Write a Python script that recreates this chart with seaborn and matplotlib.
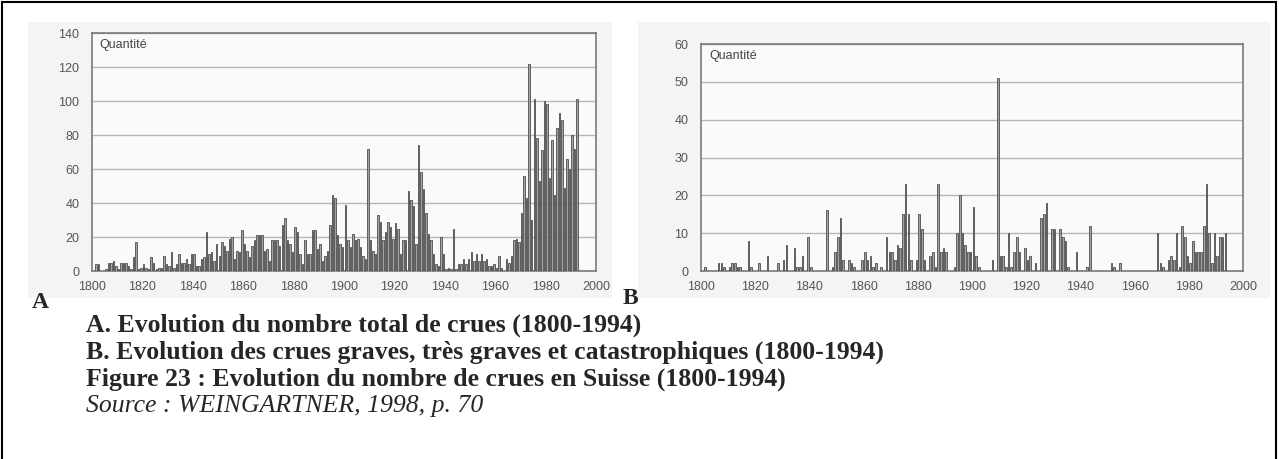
import numpy as np
import pandas as pd
import matplotlib
matplotlib.use('Agg')
import matplotlib.pyplot as plt
import seaborn as sns
from matplotlib.patches import Rectangle
from matplotlib.ticker import MultipleLocator

# annual values 1800-1993
years = np.arange(1800, 1994)

total_1800_1899 = [
    0, 4, 4, 0, 0, 1, 5, 5, 6, 3,
    1, 5, 5, 5, 3, 1, 8, 17, 1, 2,
    4, 2, 1, 8, 5, 1, 2, 2, 9, 4,
    3, 11, 2, 4, 10, 5, 5, 7, 4, 10,
    10, 3, 3, 7, 8, 23, 10, 11, 6, 16,
    9, 17, 15, 12, 19, 20, 7, 12, 11, 24,
    16, 12, 8, 15, 18, 21, 21, 21, 12, 13,
    6, 18, 18, 18, 15, 27, 31, 18, 16, 11,
    26, 23, 10, 4, 18, 10, 10, 24, 24, 13,
    16, 6, 9, 12, 27, 45, 43, 21, 16, 14,
]
total_1900_1993 = [
    39, 18, 14, 22, 18, 19, 14, 9, 7, 72,
    18, 12, 10, 33, 29, 18, 23, 29, 26, 19,
    28, 25, 10, 18, 18, 47, 42, 38, 16, 74,
    58, 48, 34, 22, 18, 10, 4, 3, 20, 10,
    1, 2, 1, 25, 1, 4, 4, 7, 4, 7,
    11, 6, 10, 6, 10, 6, 7, 3, 3, 4,
    2, 9, 2, 0, 7, 5, 9, 18, 19, 17,
    34, 56, 43, 122, 30, 101, 78, 53, 71, 100,
    98, 55, 77, 45, 84, 93, 89, 49, 66, 60,
    80, 72, 101, 0,
]

graves_1800_1899 = [
    0, 1, 0, 0, 0, 0, 2, 2, 1, 0,
    1, 2, 2, 1, 1, 0, 0, 8, 1, 0,
    0, 2, 0, 0, 4, 0, 0, 0, 2, 0,
    3, 7, 0, 0, 6, 1, 1, 4, 0, 9,
    1, 0, 0, 0, 0, 0, 16, 0, 1, 5,
    9, 14, 3, 0, 3, 2, 1, 0, 0, 3,
    5, 3, 4, 1, 2, 0, 1, 0, 9, 5,
    5, 3, 7, 6, 15, 23, 15, 3, 0, 3,
    15, 11, 3, 0, 4, 5, 1, 23, 5, 6,
    5, 0, 0, 1, 10, 20, 10, 7, 5, 5,
]
graves_1900_1993 = [
    17, 4, 1, 0, 0, 0, 0, 3, 0, 51,
    4, 4, 1, 10, 1, 5, 9, 5, 0, 6,
    3, 4, 0, 2, 0, 14, 15, 18, 0, 11,
    11, 0, 11, 9, 8, 1, 0, 0, 5, 0,
    0, 0, 1, 12, 0, 0, 0, 0, 0, 0,
    0, 2, 1, 0, 2, 0, 0, 0, 0, 0,
    0, 0, 0, 0, 0, 0, 0, 0, 10, 2,
    1, 0, 3, 4, 3, 10, 1, 12, 9, 4,
    2, 8, 5, 5, 5, 12, 23, 10, 2, 10,
    4, 9, 9, 10,
]

captions = [
    "A. Evolution du nombre total de crues (1800-1994)",
    "B. Evolution des crues graves, très graves et catastrophiques (1800-1994)",
    "Figure 23 : Evolution du nombre de crues en Suisse (1800-1994)",
    "Source : WEINGARTNER, 1998, p. 70",
]

df = pd.DataFrame({
    'annee': years + 0.5,
    'total': total_1800_1899 + total_1900_1993,
    'graves': graves_1800_1899 + graves_1900_1993,
})

sns.set_style('white')
plt.rcParams['font.family'] = ['Liberation Sans', 'DejaVu Sans']

W, H = 1279, 459
fig = plt.figure(figsize=(W / 100, H / 100), dpi=100)

# scanned-page grey behind each panel
for x0, x1 in [(28, 612), (638, 1270)]:
    fig.add_artist(Rectangle((x0 / W, 1 - 298 / H), (x1 - x0) / W, 276 / H,
                             transform=fig.transFigure, facecolor='#f4f4f4',
                             edgecolor='none', zorder=0))

ax_a = fig.add_axes([92 / W, 1 - 271 / H, 504 / W, 238 / H])
ax_b = fig.add_axes([701 / W, 1 - 271 / H, 542 / W, 227 / H])

panels = [(ax_a, 'total', 140, 20, 5), (ax_b, 'graves', 60, 10, 2)]
for ax, col, ymax, ystep, yminor in panels:
    ax.set_facecolor('#fafafa')
    sns.barplot(data=df, x='annee', y=col, native_scale=True, ax=ax,
                color='#a3a3a3', edgecolor='#4d4d4d', linewidth=0.6,
                width=0.6, saturation=1, errorbar=None, zorder=3)
    ax.set_xlim(1800, 2000)
    ax.set_ylim(0, ymax)
    ax.set_xticks(range(1800, 2001, 20))
    ax.xaxis.set_minor_locator(MultipleLocator(10))
    ax.set_yticks(range(0, ymax + 1, ystep))
    ax.yaxis.set_minor_locator(MultipleLocator(yminor))
    ax.grid(axis='y', color='#b5b5b5', linewidth=1.0, zorder=0)
    ax.set_axisbelow(True)
    ax.set_xlabel('')
    ax.set_ylabel('')
    for s in ax.spines.values():
        s.set_color('#7a7a7a')
        s.set_linewidth(1.2)
    ax.tick_params(axis='both', which='major', labelsize=9, labelcolor='#555555',
                   color='#7a7a7a', length=3, width=0.8, direction='out', pad=4)
    ax.tick_params(axis='both', which='minor', color='#9a9a9a', length=2, width=0.6)
    ax.tick_params(axis='y', pad=6)
    ax.text(0.015, 0.975, 'Quantité', transform=ax.transAxes, ha='left', va='top',
            fontsize=9, color='#444444')

serif = ['Liberation Serif', 'DejaVu Serif']
fig.text(40 / W, 1 - 302 / H, 'A', fontsize=17, fontweight='bold', family=serif,
         ha='center', va='center')
fig.text(630 / W, 1 - 298 / H, 'B', fontsize=17, fontweight='bold', family=serif,
         ha='center', va='center')

for i, line in enumerate(captions):
    y = 1 - (325 + i * 27) / H
    style = 'italic' if i == 3 else 'normal'
    weight = 'normal' if i == 3 else 'bold'
    fig.text(86 / W, y, line, fontsize=18.5, fontweight=weight, fontstyle=style,
             family=serif, ha='left', va='center')

# frame around the whole figure
fig.add_artist(Rectangle((2 / W, -0.05), 1274 / W, 1.05 - 2 / H,
                         transform=fig.transFigure, fill=False,
                         edgecolor='black', linewidth=1.5))

plt.savefig('out.png', dpi=100)
